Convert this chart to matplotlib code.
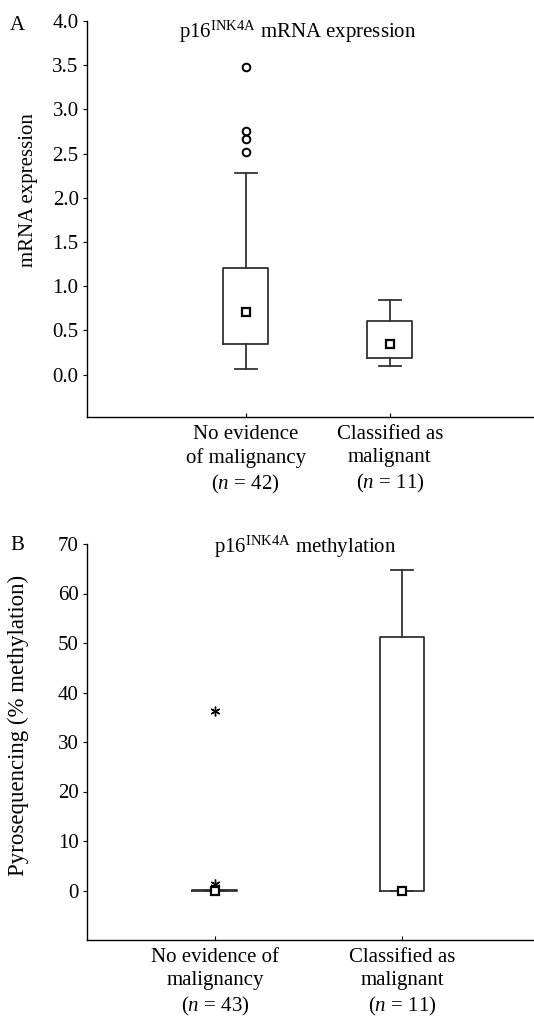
import matplotlib
matplotlib.use('Agg')
import matplotlib.pyplot as plt

plt.rcParams['font.family'] = ['Liberation Serif', 'DejaVu Serif']
plt.rcParams['mathtext.fontset'] = 'custom'
plt.rcParams['mathtext.rm'] = 'Liberation Serif'
plt.rcParams['mathtext.it'] = 'Liberation Serif:italic'

# Panel A: p16 mRNA expression (box = quartiles, square = median)
groups_a = ['No evidence\nof malignancy\n($\\mathit{n}$ = 42)',
            'Classified as\nmalignant\n($\\mathit{n}$ = 11)']
med_a = [0.71, 0.35]
q1_a = [0.35, 0.19]
q3_a = [1.21, 0.61]
whislo_a = [0.068, 0.094]
whishi_a = [2.285, 0.84]
outliers_a = [[3.48, 2.75, 2.67, 2.52], []]

# Panel B: p16 methylation by pyrosequencing
groups_b = ['No evidence of\nmalignancy\n($\\mathit{n}$ = 43)',
            'Classified as\nmalignant\n($\\mathit{n}$ = 11)']
med_b = [0.0, 0.0]
q1_b = [0.0, 0.0]
q3_b = [0.05, 51.3]
whislo_b = [0.0, 0.0]
whishi_b = [0.05, 64.7]
extremes_b = [[36.3, 1.4, 0.8], []]

W, H = 534, 1019
fig = plt.figure(figsize=(W / 100, H / 100), dpi=100)

line_col = '#333333'
FS = 15


def make_stats(med, q1, q3, lo, hi, fl):
    return [dict(med=m, mean=m, q1=a, q3=b, whislo=c, whishi=d, fliers=f)
            for m, a, b, c, d, f in zip(med, q1, q3, lo, hi, fl)]


def style_axis(ax, labels):
    for s in ['top', 'right']:
        ax.spines[s].set_visible(False)
    ax.spines['left'].set_linewidth(1.0)
    ax.spines['bottom'].set_linewidth(1.0)
    ax.tick_params(axis='y', direction='out', length=3, width=0.8, pad=3, labelsize=FS)
    ax.tick_params(axis='x', direction='in', length=3, width=0.8, pad=6, labelsize=FS)
    ax.set_xticks([1, 2])
    ax.set_xticklabels(labels, linespacing=1.28)


def draw_box(ax, stats, width, capw, flier_marker, flier_size, flier_lw):
    ax.bxp(stats, positions=[1, 2], widths=width, capwidths=capw,
           showmeans=True, showfliers=True, patch_artist=False,
           boxprops=dict(color=line_col, linewidth=1.3),
           whiskerprops=dict(color=line_col, linewidth=1.3),
           capprops=dict(color=line_col, linewidth=1.3),
           medianprops=dict(linewidth=0),
           meanprops=dict(marker='s', markerfacecolor='white', markeredgecolor='black',
                          markeredgewidth=1.6, markersize=6),
           flierprops=dict(marker=flier_marker, markerfacecolor='none',
                           markeredgecolor='black', markeredgewidth=flier_lw,
                           markersize=flier_size, linestyle='none'))


# ---- Panel A ----
axA = fig.add_axes([87 / W, 1 - 417 / H, (W - 87) / W, (417 - 21) / H])
draw_box(axA, make_stats(med_a, q1_a, q3_a, whislo_a, whishi_a, outliers_a),
         0.31, 0.154, 'o', 5.5, 1.4)
axA.set_ylim(-0.48, 4.0)
axA.set_xlim(-0.1, 3.0)
axA.set_yticks([0, 0.5, 1, 1.5, 2, 2.5, 3, 3.5, 4])
axA.set_yticklabels([f'{v:.1f}' for v in [0, 0.5, 1, 1.5, 2, 2.5, 3, 3.5, 4]])
style_axis(axA, groups_a)

fig.text(298 / W, 1 - 38 / H, r'p16$^{\mathrm{INK4A}}$ mRNA expression',
         ha='center', va='baseline', fontsize=FS)
fig.text(29 / W, 1 - 190 / H, 'mRNA expression', rotation=90,
         ha='center', va='center', fontsize=FS)
fig.text(17 / W, 1 - 26 / H, 'A', ha='center', va='center', fontsize=FS)

# ---- Panel B ----
axB = fig.add_axes([87 / W, 1 - 940 / H, (W - 87) / W, (940 - 544) / H])
draw_box(axB, make_stats(med_b, q1_b, q3_b, whislo_b, whishi_b, extremes_b),
         0.24, 0.118, (6, 2, 0), 7, 1.0)
axB.set_ylim(-10, 70)
axB.set_xlim(0.316, 2.706)
axB.set_yticks([0, 10, 20, 30, 40, 50, 60, 70])
style_axis(axB, groups_b)

fig.text(305 / W, 1 - 553 / H, r'p16$^{\mathrm{INK4A}}$ methylation',
         ha='center', va='baseline', fontsize=FS)
fig.text(18 / W, 1 - 725 / H, 'Pyrosequencing (% methylation)', rotation=90,
         ha='center', va='center', fontsize=16.5)
fig.text(17 / W, 1 - 546 / H, 'B', ha='center', va='center', fontsize=FS)

fig.savefig('out.png', dpi=100)
